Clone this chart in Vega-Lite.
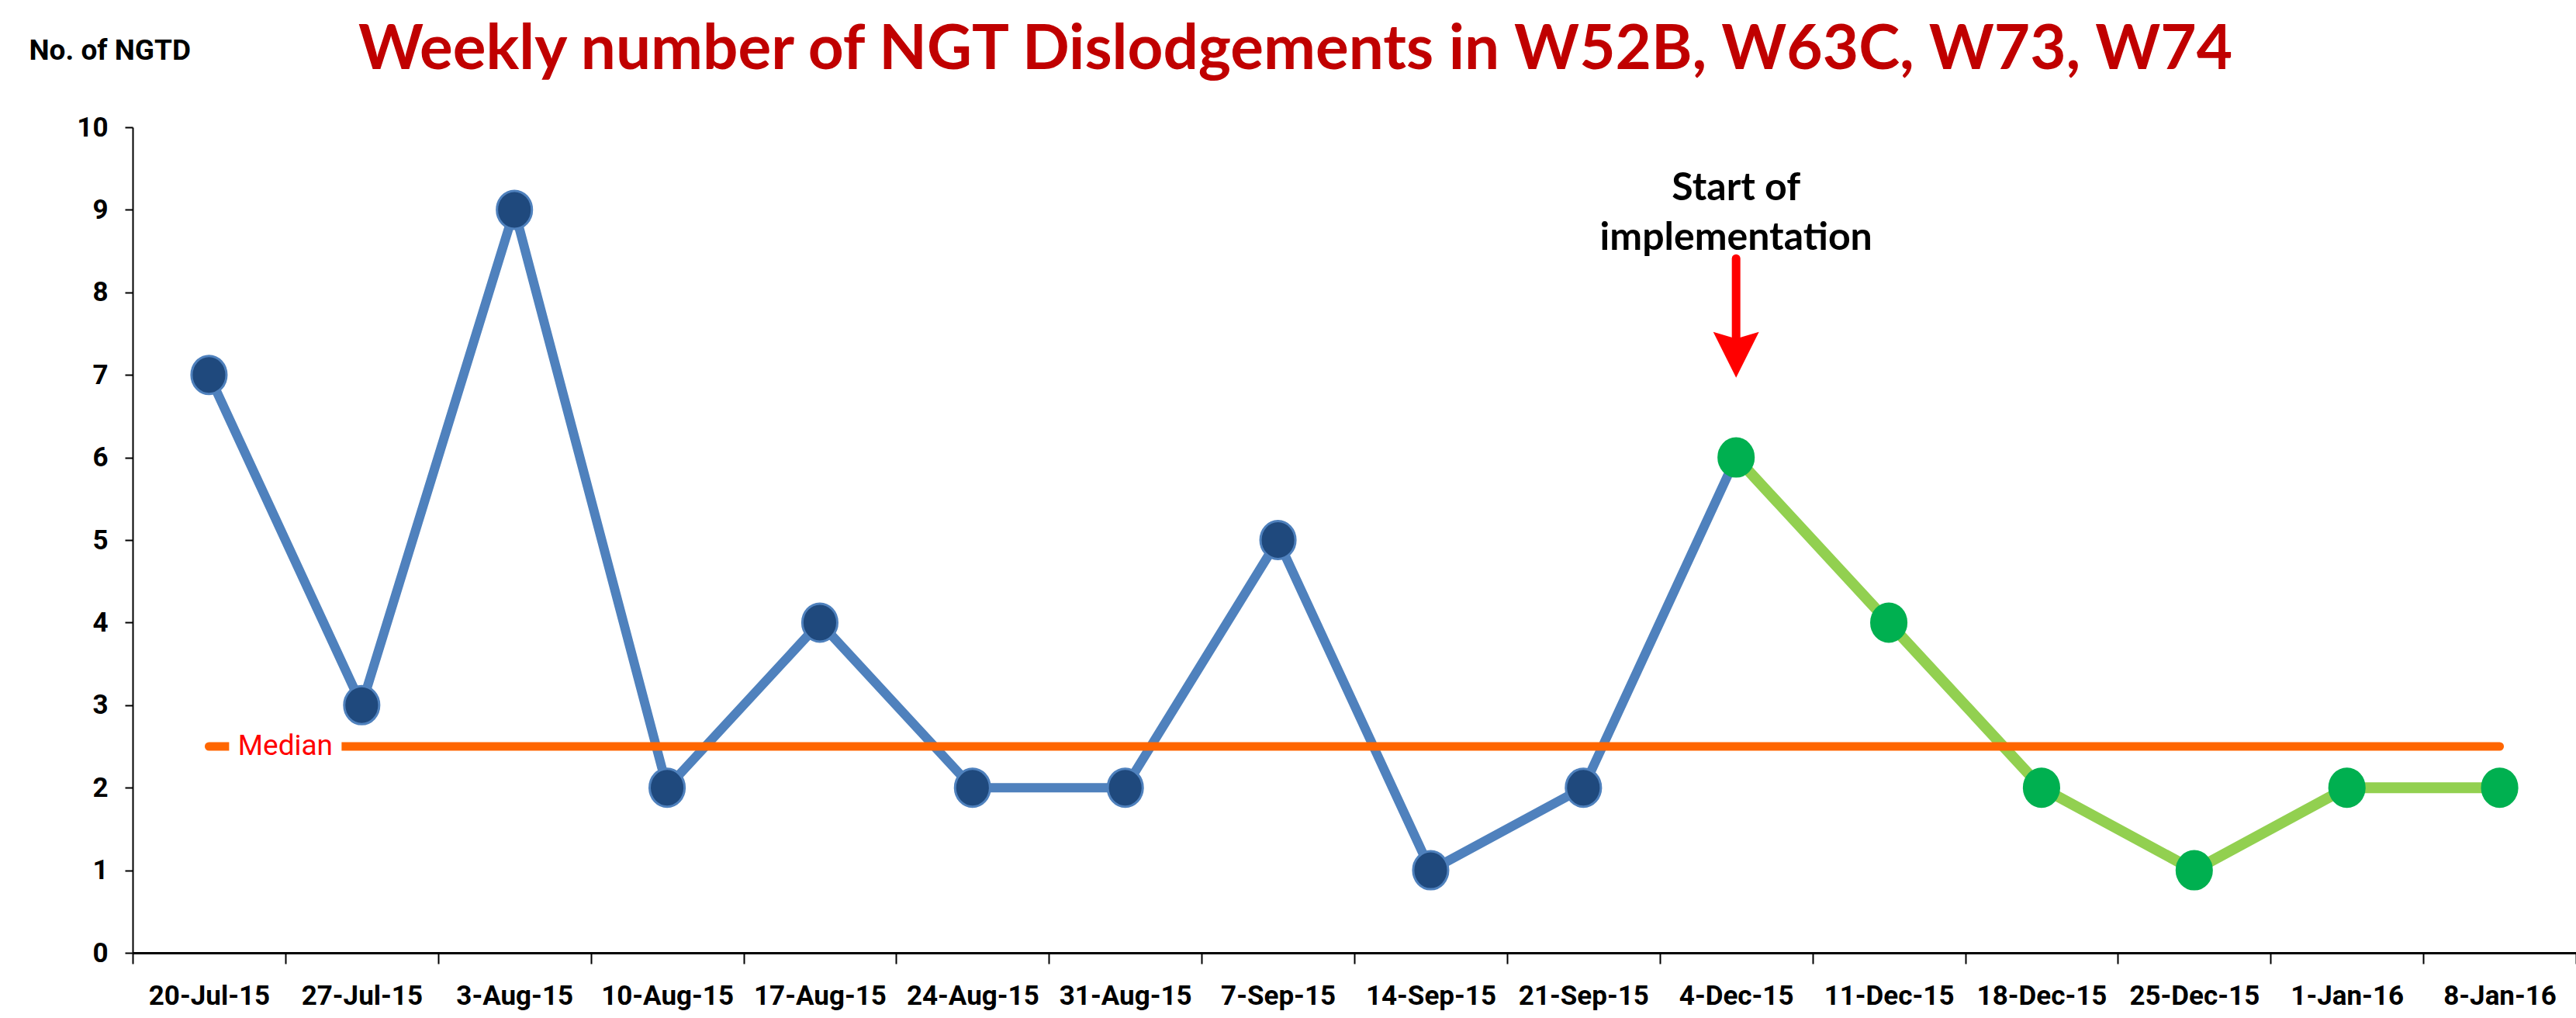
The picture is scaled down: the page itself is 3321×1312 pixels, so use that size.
{
  "$schema": "https://vega.github.io/schema/vega-lite/v6.json",
  "autosize": {"type": "none"},
  "padding": {"left": 171, "top": 164, "right": 0, "bottom": 84},
  "width": 3150,
  "height": 1064,
  "background": "white",
  "title": {
    "text": "Weekly number of NGT Dislodgements in W52B, W63C, W73, W74",
    "anchor": "middle",
    "frame": "group",
    "font": "Lato",
    "fontWeight": "bold",
    "fontSize": 80,
    "color": "#C00000",
    "offset": -60,
    "dx": -76
  },
  "config": {
    "view": {"stroke": null},
    "axis": {"grid": false}
  },
  "datasets": {
    "weeks": [
      {"week": "20-Jul-15", "count": 7, "period": "Pre"},
      {"week": "27-Jul-15", "count": 3, "period": "Pre"},
      {"week": "3-Aug-15", "count": 9, "period": "Pre"},
      {"week": "10-Aug-15", "count": 2, "period": "Pre"},
      {"week": "17-Aug-15", "count": 4, "period": "Pre"},
      {"week": "24-Aug-15", "count": 2, "period": "Pre"},
      {"week": "31-Aug-15", "count": 2, "period": "Pre"},
      {"week": "7-Sep-15", "count": 5, "period": "Pre"},
      {"week": "14-Sep-15", "count": 1, "period": "Pre"},
      {"week": "21-Sep-15", "count": 2, "period": "Pre"},
      {"week": "4-Dec-15", "count": 6, "period": "Post"},
      {"week": "11-Dec-15", "count": 4, "period": "Post"},
      {"week": "18-Dec-15", "count": 2, "period": "Post"},
      {"week": "25-Dec-15", "count": 1, "period": "Post"},
      {"week": "1-Jan-16", "count": 2, "period": "Post"},
      {"week": "8-Jan-16", "count": 2, "period": "Post"}
    ],
    "median": [
      {"start": "20-Jul-15", "end": "8-Jan-16", "median": 2.5, "label": "Median"}
    ],
    "annot": [
      {"week": "4-Dec-15", "text": "Start of\nimplementation", "textY": 9.12, "arrowTop": 8.41, "arrowEnd": 7.35, "headY": 7.245}
    ]
  },
  "layer": [
    {
      "data": {"name": "weeks"},
      "transform": [{"filter": "datum.period == 'Pre' || datum.week == '4-Dec-15'"}],
      "mark": {"type": "line", "color": "#4F81BD", "strokeWidth": 12, "strokeJoin": "round"},
      "encoding": {
        "x": {
          "field": "week", "type": "nominal", "sort": null,
          "scale": {"domain": ["20-Jul-15","27-Jul-15","3-Aug-15","10-Aug-15","17-Aug-15","24-Aug-15","31-Aug-15","7-Sep-15","14-Sep-15","21-Sep-15","4-Dec-15","11-Dec-15","18-Dec-15","25-Dec-15","1-Jan-16","8-Jan-16"], "paddingInner": 0, "paddingOuter": 0},
          "axis": {
            "title": null,
            "labelAngle": 0,
            "labelFont": "Roboto",
            "labelFontWeight": "bold",
            "labelFontSize": 35,
            "labelColor": "#000000",
            "labelPadding": 24,
            "labelOverlap": false,
            "labelLimit": 0,
            "domainColor": "#000000",
            "domainWidth": 3,
            "tickColor": "#000000",
            "tickWidth": 2,
            "tickSize": 14,
            "tickBand": "extent"
          }
        },
        "y": {
          "field": "count", "type": "quantitative",
          "scale": {"domain": [0, 10], "nice": false},
          "axis": {
            "values": [0,1,2,3,4,5,6,7,8,9,10],
            "format": "d",
            "title": "No. of NGTD",
            "titleAngle": 0,
            "titleAlign": "left",
            "titleBaseline": "alphabetic",
            "titleX": -134,
            "titleY": -88,
            "titleFont": "Roboto",
            "titleFontWeight": "bold",
            "titleFontSize": 37,
            "titleColor": "#000000",
            "labelFont": "Roboto",
            "labelFontWeight": "bold",
            "labelFontSize": 35,
            "labelColor": "#000000",
            "labelPadding": 22,
            "domainColor": "#000000",
            "domainWidth": 2,
            "tickColor": "#000000",
            "tickWidth": 2,
            "tickSize": 10
          }
        }
      }
    },
    {
      "data": {"name": "weeks"},
      "transform": [{"filter": "datum.period == 'Post'"}],
      "mark": {"type": "line", "color": "#92D050", "strokeWidth": 14, "strokeJoin": "round"},
      "encoding": {
        "x": {"field": "week", "type": "nominal", "sort": null},
        "y": {"field": "count", "type": "quantitative"}
      }
    },
    {
      "data": {"name": "median"},
      "mark": {"type": "rule", "color": "#FF6600", "strokeWidth": 11, "strokeCap": "round"},
      "encoding": {
        "x": {"field": "start", "type": "nominal", "sort": null},
        "x2": {"field": "end"},
        "y": {"field": "median", "type": "quantitative"}
      }
    },
    {
      "data": {"name": "median"},
      "mark": {"type": "point", "shape": "M-1,-0.45H1V0.45H-1Z", "filled": true, "fill": "white", "opacity": 1, "strokeWidth": 0, "size": 21025},
      "encoding": {
        "x": {"field": "start", "type": "nominal", "sort": null, "bandPosition": 1},
        "y": {"field": "median", "type": "quantitative"}
      }
    },
    {
      "data": {"name": "median"},
      "mark": {"type": "text", "color": "#FF0000", "font": "Roboto", "fontSize": 37, "align": "center", "baseline": "middle"},
      "encoding": {
        "x": {"field": "start", "type": "nominal", "sort": null, "bandPosition": 1},
        "y": {"field": "median", "type": "quantitative"},
        "text": {"field": "label"}
      }
    },
    {
      "data": {"name": "weeks"},
      "mark": {"type": "point", "shape": "M0,-1A0.92,1 0 1,1 0,1A0.92,1 0 1,1 0,-1Z", "filled": true, "opacity": 1, "size": 2401, "strokeWidth": 3},
      "encoding": {
        "x": {"field": "week", "type": "nominal", "sort": null},
        "y": {"field": "count", "type": "quantitative"},
        "fill": {"field": "period", "type": "nominal", "scale": {"domain": ["Pre", "Post"], "range": ["#1F497D", "#00B050"]}, "legend": null},
        "stroke": {"field": "period", "type": "nominal", "scale": {"domain": ["Pre", "Post"], "range": ["#4F81BD", "#00B050"]}, "legend": null}
      }
    },
    {
      "data": {"name": "annot"},
      "mark": {"type": "rule", "color": "#FF0000", "strokeWidth": 11, "strokeCap": "round"},
      "encoding": {
        "x": {"field": "week", "type": "nominal", "sort": null},
        "y": {"field": "arrowTop", "type": "quantitative"},
        "y2": {"field": "arrowEnd"}
      }
    },
    {
      "data": {"name": "annot"},
      "mark": {"type": "point", "shape": "M-1,-1L0,-0.7L1,-1L0,1Z", "filled": true, "fill": "#FF0000", "opacity": 1, "strokeWidth": 0, "size": 3481},
      "encoding": {
        "x": {"field": "week", "type": "nominal", "sort": null},
        "y": {"field": "headY", "type": "quantitative"}
      }
    },
    {
      "data": {"name": "annot"},
      "mark": {"type": "text", "font": "Lato", "fontWeight": "bold", "fontSize": 50, "color": "#000000", "align": "center", "baseline": "alphabetic", "lineBreak": "\n", "lineHeight": 64},
      "encoding": {
        "x": {"field": "week", "type": "nominal", "sort": null},
        "y": {"field": "textY", "type": "quantitative"},
        "text": {"field": "text"}
      }
    }
  ]
}
